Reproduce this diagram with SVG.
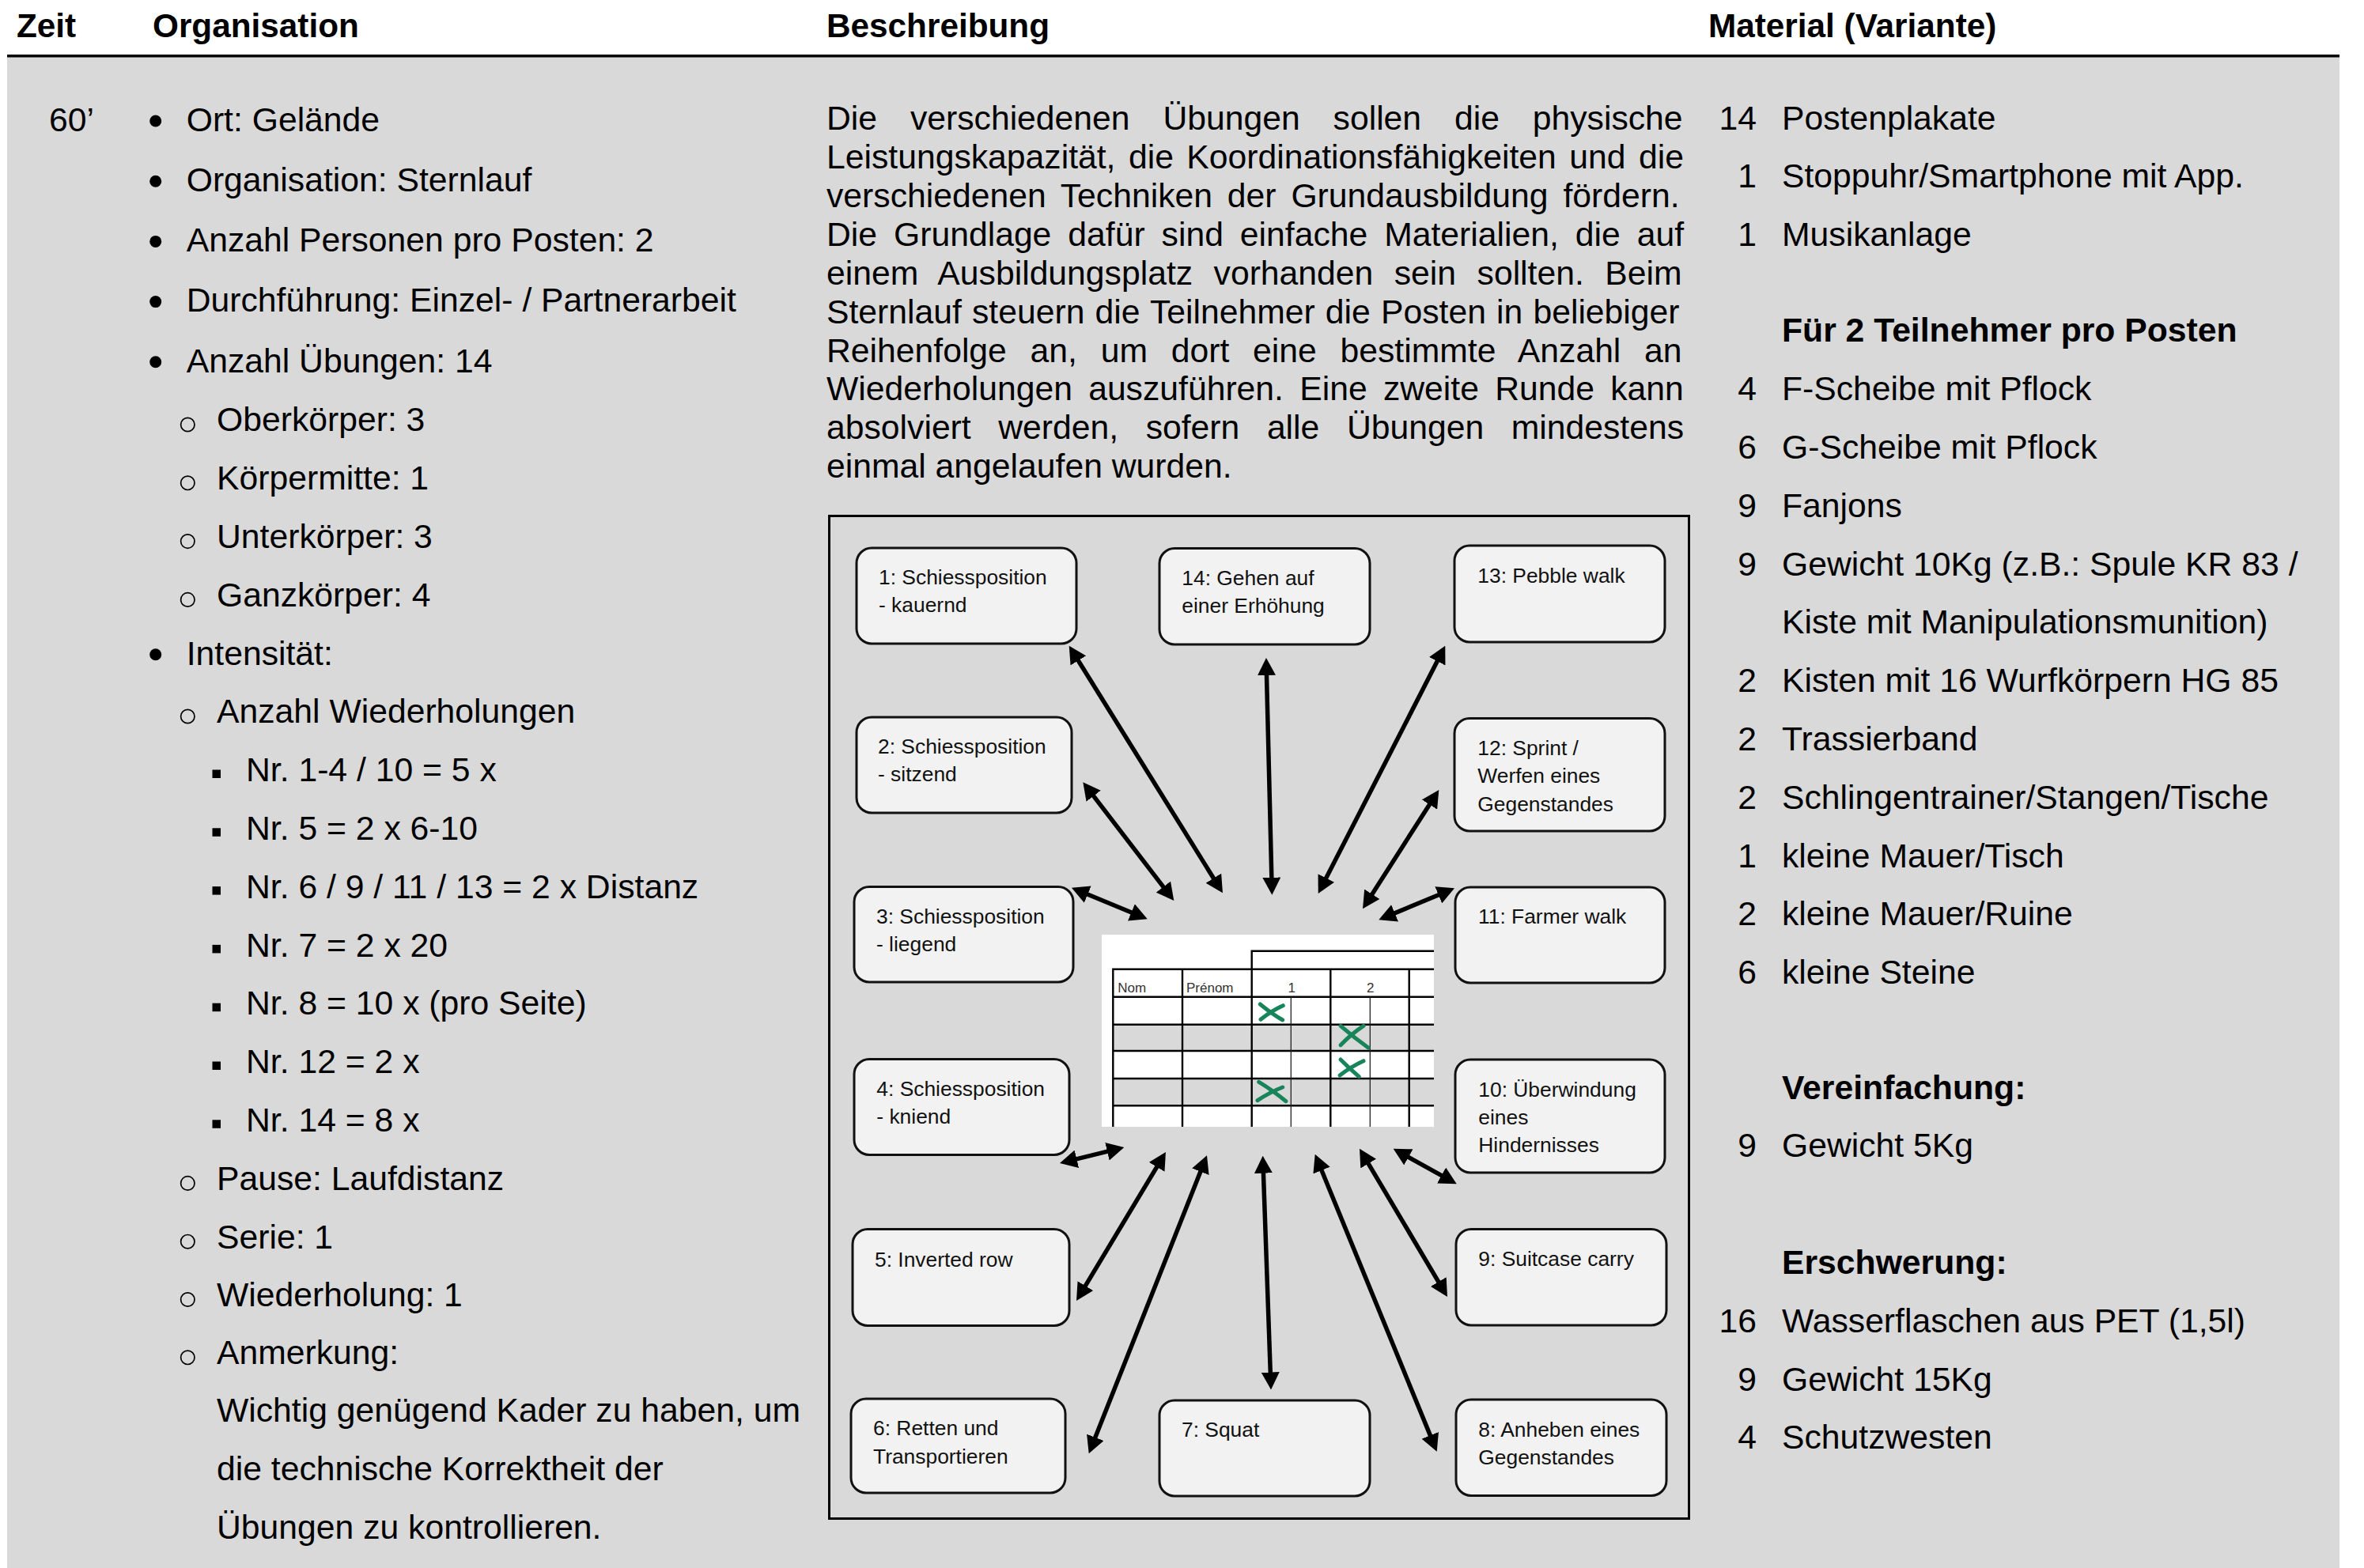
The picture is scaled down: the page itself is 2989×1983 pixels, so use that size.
<svg xmlns="http://www.w3.org/2000/svg" width="2989" height="1983" viewBox="0 0 2989 1983">
<style>
text{font-family:"Liberation Sans",Arial,sans-serif;fill:#000}
.h{font-size:42.3px;font-weight:bold}
.b{font-size:42.7px}
.bb{font-size:42.7px;font-weight:bold}
.n{font-size:26.4px;fill:#111}
.t{font-size:17px;fill:#333}
.node{fill:#f2f2f2;stroke:#111;stroke-width:3}
.arr{stroke:#000;stroke-width:5.5;fill:none;marker-start:url(#ah);marker-end:url(#ah)}
.tk{stroke:#000;stroke-width:2.4;fill:none}
.tn{stroke:#222;stroke-width:1.3;fill:none}
.gx{stroke:#17845a;stroke-width:5;stroke-linecap:round;fill:none}
.num{text-anchor:end}
</style>
<defs>
<marker id="ah" viewBox="0 0 22 23" refX="12" refY="11.5" markerWidth="22" markerHeight="23" markerUnits="userSpaceOnUse" orient="auto-start-reverse"><path d="M0,0 L22,11.5 L0,23 z" fill="#000"/></marker>
</defs>
<rect x="0" y="0" width="2989" height="1983" fill="#fff"/>
<rect x="9" y="72" width="2949" height="1911" fill="#d9d9d9"/>
<rect x="9" y="69" width="2949" height="3.5" fill="#000"/>

<g id="header">
<text class="h" x="21" y="47">Zeit</text>
<text class="h" x="193" y="47">Organisation</text>
<text class="h" x="1045" y="47">Beschreibung</text>
<text class="h" x="2160" y="47">Material (Variante)</text>
</g>

<g id="zeit">
<text class="b" x="62" y="165.7">60’</text>
</g>

<g id="organisation">
<g fill="#000">
<circle cx="196.7" cy="153" r="7.5"/>
<circle cx="196.7" cy="229.2" r="7.5"/>
<circle cx="196.7" cy="305.4" r="7.5"/>
<circle cx="196.7" cy="381.6" r="7.5"/>
<circle cx="196.7" cy="457.8" r="7.5"/>
<circle cx="196.7" cy="827.8" r="7.5"/>
</g>
<g fill="none" stroke="#000" stroke-width="1.7">
<circle cx="237.3" cy="537" r="8.7"/>
<circle cx="237.3" cy="610.8" r="8.7"/>
<circle cx="237.3" cy="684.6" r="8.7"/>
<circle cx="237.3" cy="758.4" r="8.7"/>
<circle cx="237.3" cy="906" r="8.7"/>
<circle cx="237.3" cy="1496.4" r="8.7"/>
<circle cx="237.3" cy="1570.2" r="8.7"/>
<circle cx="237.3" cy="1643.5" r="8.7"/>
<circle cx="237.3" cy="1716.8" r="8.7"/>
</g>
<g fill="#000">
<rect x="268.5" y="973.5" width="10.5" height="10.5"/>
<rect x="268.5" y="1047.3" width="10.5" height="10.5"/>
<rect x="268.5" y="1121.1" width="10.5" height="10.5"/>
<rect x="268.5" y="1194.9" width="10.5" height="10.5"/>
<rect x="268.5" y="1268.7" width="10.5" height="10.5"/>
<rect x="268.5" y="1342.5" width="10.5" height="10.5"/>
<rect x="268.5" y="1416.3" width="10.5" height="10.5"/>
</g>
<text class="b" x="235.7" y="165.7">Ort: Gelände</text>
<text class="b" x="235.7" y="241.9">Organisation: Sternlauf</text>
<text class="b" x="235.7" y="318.1">Anzahl Personen pro Posten: 2</text>
<text class="b" x="235.7" y="394.3">Durchführung: Einzel- / Partnerarbeit</text>
<text class="b" x="235.7" y="470.5">Anzahl Übungen: 14</text>
<text class="b" x="274" y="545.3">Oberkörper: 3</text>
<text class="b" x="274" y="619.1">Körpermitte: 1</text>
<text class="b" x="274" y="692.9">Unterkörper: 3</text>
<text class="b" x="274" y="766.7">Ganzkörper: 4</text>
<text class="b" x="235.7" y="840.5">Intensität:</text>
<text class="b" x="274" y="914.3">Anzahl Wiederholungen</text>
<text class="b" x="311" y="988.1">Nr. 1-4 / 10 = 5 x</text>
<text class="b" x="311" y="1061.9">Nr. 5 = 2 x 6-10</text>
<text class="b" x="311" y="1135.7">Nr. 6 / 9 / 11 / 13 = 2 x Distanz</text>
<text class="b" x="311" y="1209.5">Nr. 7 = 2 x 20</text>
<text class="b" x="311" y="1283.3">Nr. 8 = 10 x (pro Seite)</text>
<text class="b" x="311" y="1357.1">Nr. 12 = 2 x</text>
<text class="b" x="311" y="1430.9">Nr. 14 = 8 x</text>
<text class="b" x="274" y="1504.7">Pause: Laufdistanz</text>
<text class="b" x="274" y="1578.5">Serie: 1</text>
<text class="b" x="274" y="1651.8">Wiederholung: 1</text>
<text class="b" x="274" y="1725.1">Anmerkung:</text>
<text class="b" x="274" y="1798.4">Wichtig genügend Kader zu haben, um</text>
<text class="b" x="274" y="1872.2">die technische Korrektheit der</text>
<text class="b" x="274" y="1946">Übungen zu kontrollieren.</text>
</g>

<g id="beschreibung">
<text class="b" x="1045" y="164" word-spacing="30">Die verschiedenen Übungen sollen die physische</text>
<text class="b" x="1045" y="213" word-spacing="4.6">Leistungskapazität, die Koordinationsfähigkeiten und die</text>
<text class="b" x="1045" y="262" word-spacing="7">verschiedenen Techniken der Grundausbildung fördern.</text>
<text class="b" x="1045" y="311" word-spacing="9.1">Die Grundlage dafür sind einfache Materialien, die auf</text>
<text class="b" x="1045" y="360" word-spacing="14.6">einem Ausbildungsplatz vorhanden sein sollten. Beim</text>
<text class="b" x="1045" y="409" word-spacing="1.3">Sternlauf steuern die Teilnehmer die Posten in beliebiger</text>
<text class="b" x="1045" y="458" word-spacing="17.9">Reihenfolge an, um dort eine bestimmte Anzahl an</text>
<text class="b" x="1045" y="506" word-spacing="8.4">Wiederholungen auszuführen. Eine zweite Runde kann</text>
<text class="b" x="1045" y="555" word-spacing="22.7">absolviert werden, sofern alle Übungen mindestens</text>
<text class="b" x="1045" y="604">einmal angelaufen wurden.</text>
</g>

<g id="diagram">
<rect x="1048.5" y="652.5" width="1087" height="1268" fill="none" stroke="#000" stroke-width="3"/>

<g id="tabelle">
<rect x="1393" y="1182" width="420" height="243" fill="#fff"/>
<rect x="1407" y="1296" width="406" height="33" fill="#d9d9d9"/>
<rect x="1407" y="1364" width="406" height="34" fill="#d9d9d9"/>
<path class="tk" d="M1582.7,1202.7 H1813 M1407.3,1225.7 H1813 M1407.3,1260.7 H1813 M1407.3,1295.7 H1813 M1407.3,1329 H1813 M1407.3,1364 H1813 M1407.3,1398.3 H1813 M1407.3,1224.5 V1425 M1495,1225.7 V1425 M1582.7,1201.5 V1425 M1682.3,1225.7 V1425 M1781.7,1225.7 V1425"/>
<path class="tn" d="M1632.3,1260.7 V1425 M1732.3,1260.7 V1425"/>
<text class="t" x="1413.3" y="1255">Nom</text>
<text class="t" x="1500" y="1255">Prénom</text>
<text class="t" x="1633.3" y="1255" text-anchor="middle">1</text>
<text class="t" x="1732.7" y="1255" text-anchor="middle">2</text>
<path class="gx" d="M1593.3,1270 Q1608,1282 1621.7,1290 M1594,1289.3 Q1608,1278 1622.3,1271.7"/>
<path class="gx" d="M1695,1297.3 Q1712,1312 1730,1325 M1695,1321.7 Q1708,1308 1724,1297.3"/>
<path class="gx" d="M1695,1340 Q1706,1351 1718.3,1361.7 M1694,1360 Q1708,1349 1724,1341.7"/>
<path class="gx" d="M1591.7,1368.3 Q1608,1378 1626,1392.7 M1590,1391.7 Q1606,1381 1621.7,1375"/>
</g>

<g id="connectors">
<path class="arr" d="M1357,825.2 L1540.7,1120.8"/>
<path class="arr" d="M1601.2,842 L1608.1,1121.7"/>
<path class="arr" d="M1822.7,825.6 L1671.3,1121.1"/>
<path class="arr" d="M1375.4,997.2 L1478.2,1131.1"/>
<path class="arr" d="M1813.9,1007.4 L1728.4,1140.9"/>
<path class="arr" d="M1364.2,1126.5 L1441.5,1158.5"/>
<path class="arr" d="M1829.8,1127.2 L1752.5,1159.4"/>
<path class="arr" d="M1349.7,1468.6 L1411.6,1453.4"/>
<path class="arr" d="M1833,1492.4 L1770.4,1457.6"/>
<path class="arr" d="M1366.2,1636.4 L1468.8,1465.6"/>
<path class="arr" d="M1824.9,1631.4 L1724.1,1461.3"/>
<path class="arr" d="M1380.4,1829 L1522.3,1470.6"/>
<path class="arr" d="M1812.9,1826.4 L1666.5,1469"/>
<path class="arr" d="M1606.7,1747.5 L1597,1471.7"/>
</g>

<g id="n1"><rect class="node" x="1083" y="693" width="278" height="121" rx="19"/><text class="n" x="1111" y="739">1: Schiessposition</text><text class="n" x="1111" y="773.5">- kauernd</text></g>
<g id="n14"><rect class="node" x="1466" y="693.5" width="266" height="121.5" rx="19"/><text class="n" x="1494.3" y="740">14: Gehen auf</text><text class="n" x="1494.3" y="774.5">einer Erhöhung</text></g>
<g id="n13"><rect class="node" x="1839" y="690" width="266" height="122" rx="19"/><text class="n" x="1868.3" y="736.7">13: Pebble walk</text></g>
<g id="n2"><rect class="node" x="1083" y="907" width="272" height="121" rx="19"/><text class="n" x="1110" y="953.3">2: Schiessposition</text><text class="n" x="1110" y="988">- sitzend</text></g>
<g id="n12"><rect class="node" x="1839" y="908.5" width="266" height="142.5" rx="19"/><text class="n" x="1868.3" y="955">12: Sprint /</text><text class="n" x="1868.3" y="990">Werfen eines</text><text class="n" x="1868.3" y="1025.5">Gegenstandes</text></g>
<g id="n3"><rect class="node" x="1080" y="1121.5" width="277" height="120.5" rx="19"/><text class="n" x="1108" y="1168">3: Schiessposition</text><text class="n" x="1108" y="1202.5">- liegend</text></g>
<g id="n11"><rect class="node" x="1840" y="1122" width="265" height="121" rx="19"/><text class="n" x="1869" y="1168">11: Farmer walk</text></g>
<g id="n4"><rect class="node" x="1080" y="1339.5" width="272" height="121" rx="19"/><text class="n" x="1108.3" y="1386">4: Schiessposition</text><text class="n" x="1108.3" y="1420.7">- kniend</text></g>
<g id="n10"><rect class="node" x="1840" y="1340" width="265" height="143" rx="19"/><text class="n" x="1869.3" y="1386.7">10: Überwindung</text><text class="n" x="1869.3" y="1421.7">eines</text><text class="n" x="1869.3" y="1456.7">Hindernisses</text></g>
<g id="n5"><rect class="node" x="1078" y="1554.5" width="274" height="122" rx="19"/><text class="n" x="1106" y="1601.7">5: Inverted row</text></g>
<g id="n9"><rect class="node" x="1841" y="1554.5" width="266" height="121.5" rx="19"/><text class="n" x="1869.3" y="1600.7">9: Suitcase carry</text></g>
<g id="n6"><rect class="node" x="1076" y="1769" width="271" height="119" rx="19"/><text class="n" x="1104" y="1815">6: Retten und</text><text class="n" x="1104" y="1850.7">Transportieren</text></g>
<g id="n7"><rect class="node" x="1466" y="1771" width="266" height="121" rx="19"/><text class="n" x="1494" y="1817.3">7: Squat</text></g>
<g id="n8"><rect class="node" x="1841" y="1770" width="266" height="121.5" rx="19"/><text class="n" x="1869.3" y="1816.7">8: Anheben eines</text><text class="n" x="1869.3" y="1851.7">Gegenstandes</text></g>
</g>

<g id="material">
<text class="b num" x="2221" y="163.7">14</text><text class="b" x="2253" y="163.7">Postenplakate</text>
<text class="b num" x="2221" y="237">1</text><text class="b" x="2253" y="237">Stoppuhr/Smartphone mit App.</text>
<text class="b num" x="2221" y="310.5">1</text><text class="b" x="2253" y="310.5">Musikanlage</text>
<text class="bb" x="2253" y="432.4">Für 2 Teilnehmer pro Posten</text>
<text class="b num" x="2221" y="506.2">4</text><text class="b" x="2253" y="506.2">F-Scheibe mit Pflock</text>
<text class="b num" x="2221" y="580">6</text><text class="b" x="2253" y="580">G-Scheibe mit Pflock</text>
<text class="b num" x="2221" y="653.8">9</text><text class="b" x="2253" y="653.8">Fanjons</text>
<text class="b num" x="2221" y="727.6">9</text><text class="b" x="2253" y="727.6">Gewicht 10Kg (z.B.: Spule KR 83 /</text>
<text class="b" x="2253" y="801.4">Kiste mit Manipulationsmunition)</text>
<text class="b num" x="2221" y="875.2">2</text><text class="b" x="2253" y="875.2">Kisten mit 16 Wurfkörpern HG 85</text>
<text class="b num" x="2221" y="949">2</text><text class="b" x="2253" y="949">Trassierband</text>
<text class="b num" x="2221" y="1022.8">2</text><text class="b" x="2253" y="1022.8">Schlingentrainer/Stangen/Tische</text>
<text class="b num" x="2221" y="1096.6">1</text><text class="b" x="2253" y="1096.6">kleine Mauer/Tisch</text>
<text class="b num" x="2221" y="1170.4">2</text><text class="b" x="2253" y="1170.4">kleine Mauer/Ruine</text>
<text class="b num" x="2221" y="1244.2">6</text><text class="b" x="2253" y="1244.2">kleine Steine</text>
<text class="bb" x="2253" y="1389.5">Vereinfachung:</text>
<text class="b num" x="2221" y="1463.3">9</text><text class="b" x="2253" y="1463.3">Gewicht 5Kg</text>
<text class="bb" x="2253" y="1611">Erschwerung:</text>
<text class="b num" x="2221" y="1684.8">16</text><text class="b" x="2253" y="1684.8">Wasserflaschen aus PET (1,5l)</text>
<text class="b num" x="2221" y="1758.6">9</text><text class="b" x="2253" y="1758.6">Gewicht 15Kg</text>
<text class="b num" x="2221" y="1832.4">4</text><text class="b" x="2253" y="1832.4">Schutzwesten</text>
</g>
</svg>
